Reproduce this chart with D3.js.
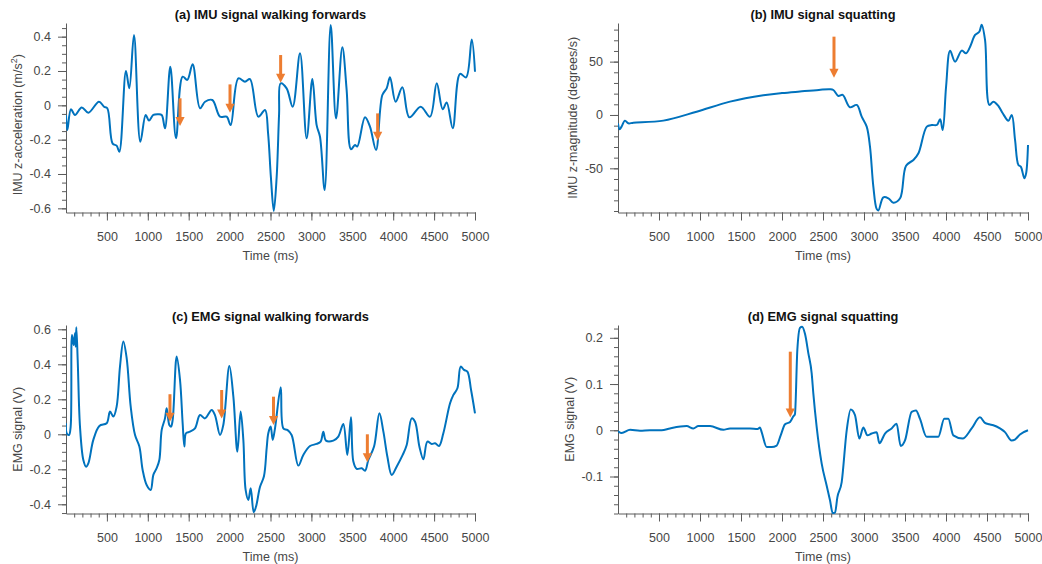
<!DOCTYPE html>
<html>
<head>
<meta charset="utf-8">
<script src="https://cdn.jsdelivr.net/npm/d3@7"></script>
<style>
  html, body { margin: 0; padding: 0; background: #fff; }
  svg { display: block; }
</style>
</head>
<body>
<svg id="chart" width="1042" height="564"></svg>
<script>
// ---- shared time axis (ms) ----
const timeTicks = [500, 1000, 1500, 2000, 2500, 3000, 3500, 4000, 4500, 5000];

// ---- (a) IMU z-acceleration, walking forwards ----
const imuWalkTime = [0, 16, 61, 110, 192, 273, 403, 465, 505, 570, 619, 652, 733, 774, 831, 909, 974, 1015, 1068, 1129,
  1170, 1210, 1275, 1345, 1426, 1483, 1548, 1638, 1700, 1789, 1883, 1964, 2013, 2107, 2188, 2249, 2351, 2433, 2470, 2505,
  2540, 2575, 2605, 2624, 2697, 2771, 2861, 2942, 3012, 3064, 3105, 3162, 3236, 3301, 3378, 3431, 3484, 3533, 3561, 3655,
  3716, 3790, 3867, 3920, 3961, 4030, 4112, 4198, 4336, 4450, 4532, 4605, 4654, 4728, 4817, 4891, 4960, 5000];
const imuWalkAccel = [-0.056, -0.144, -0.023, -0.056, -0.012, -0.043, 0.021, -0.008, -0.017, -0.223, -0.235, -0.270, 0.200, 0.099, 0.410, -0.212, -0.056, -0.089, -0.056, -0.052,
  -0.056, -0.134, 0.225, -0.192, 0.167, 0.148, 0.239, -0.017, 0.021, 0.031, -0.066, -0.066, -0.115, 0.157, 0.138, 0.153, -0.066, -0.027, -0.160, -0.420,
  -0.615, -0.420, -0.050, 0.128, 0.099, -0.008, 0.303, -0.192, 0.153, -0.115, -0.183, -0.493, 0.468, -0.076, 0.338, 0.089, -0.256, -0.231, -0.240, -0.070,
  -0.124, -0.260, 0.060, 0.099, 0.163, 0.021, 0.105, -0.070, -0.008, -0.066, 0.128, -0.023, 0.016, -0.134, 0.183, 0.163, 0.384, 0.196];
const imuWalkYTicks = [-0.6, -0.4, -0.2, 0, 0.2, 0.4];
// [time, tail value, tip value]
const imuWalkArrows = [[1394, 0.041, -0.120], [2005, 0.122, -0.043], [2624, 0.293, 0.132], [3810, -0.047, -0.206]];

// ---- (b) IMU z-magnitude, squatting ----
const imuSquatTime = [0, 20, 43, 85, 126, 187, 553, 959, 1366, 1772, 2000, 2219, 2450, 2585, 2626, 2687, 2740, 2829, 2911, 2972,
  3033, 3073, 3114, 3154, 3175, 3236, 3297, 3358, 3440, 3513, 3603, 3664, 3766, 3827, 3888, 3928, 3960, 4001, 4050, 4111,
  4192, 4244, 4294, 4355, 4406, 4435, 4476, 4529, 4578, 4639, 4692, 4761, 4802, 4842, 4883, 4912, 4956, 4977, 5000];
const imuSquatMag = [-7.8, -13.4, -10.9, -5.3, -7.8, -7.2, -5.3, 3.1, 12.5, 18.5, 20.5, 22.0, 23.5, 24.1, 23.4, 17.8, 18.8, 7.2, 9.4, -1.6,
  -10.9, -29.7, -67.2, -88.0, -89.5, -77.2, -78.1, -82.2, -78.1, -47.5, -42.2, -35.9, -10.9, -9.4, -9.4, -4.1, -14.0, 26.6, 60.3, 50.0,
  60.3, 57.8, 64.0, 75.0, 78.0, 84.5, 70.3, 9.4, 12.5, 8.4, 1.6, -5.3, 0.0, -23.4, -46.9, -48.4, -59.4, -54.7, -28.1];
const imuSquatYTicks = [-50, 0, 50];
const imuSquatArrows = [[2634, 73.4, 35.0]];

// ---- (c) EMG, walking forwards ----
const emgWalkTime = [0, 8, 37, 57, 73, 94, 110, 118, 126, 143, 171, 212, 245, 273, 334, 408, 497, 538, 579, 619,
  660, 701, 742, 791, 844, 897, 937, 986, 1035, 1068, 1108, 1141, 1170, 1210, 1231, 1263, 1284, 1304, 1353, 1394,
  1426, 1447, 1467, 1516, 1577, 1638, 1699, 1781, 1821, 1883, 1923, 1997, 2046, 2095, 2135, 2168, 2196, 2229, 2258, 2295,
  2323, 2372, 2420, 2453, 2473, 2502, 2527, 2555, 2625, 2657, 2706, 2758, 2840, 2901, 2983, 3064, 3113, 3146, 3178, 3268,
  3329, 3390, 3439, 3484, 3513, 3554, 3615, 3656, 3696, 3766, 3831, 3880, 3929, 3982, 4042, 4116, 4165, 4226, 4267, 4320,
  4369, 4418, 4471, 4512, 4560, 4613, 4695, 4736, 4785, 4825, 4866, 4907, 4952, 5000];
const emgWalkSignal = [0.063, 0.006, -0.004, 0.044, 0.568, 0.510, 0.577, 0.501, 0.612, 0.425, 0.044, -0.147, -0.185, -0.166, -0.032, 0.048, 0.063, 0.130, 0.101, 0.158,
  0.387, 0.530, 0.434, 0.158, -0.004, -0.070, -0.204, -0.290, -0.318, -0.232, -0.194, -0.147, 0.025, 0.091, 0.149, 0.053, 0.044, 0.082, 0.444, 0.310,
  0.063, -0.070, 0.006, 0.015, 0.034, 0.110, 0.091, 0.139, 0.110, -0.004, 0.053, 0.390, 0.215, -0.099, 0.130, -0.032, -0.318, -0.375, -0.309, -0.445,
  -0.413, -0.300, -0.240, -0.080, 0.006, 0.044, -0.032, 0.034, 0.269, 0.034, 0.025, -0.004, -0.179, -0.118, -0.067, -0.055, -0.042, 0.015, -0.036, -0.036,
  -0.013, 0.059, -0.118, 0.097, -0.156, -0.198, -0.194, -0.208, -0.147, -0.070, 0.120, 0.015, -0.128, -0.232, -0.185, -0.118, -0.061, 0.091, 0.072, -0.070,
  -0.143, -0.042, -0.055, -0.051, -0.067, 0.006, 0.177, 0.225, 0.263, 0.387, 0.368, 0.358, 0.253, 0.120];
const emgWalkYTicks = [-0.4, -0.2, 0, 0.2, 0.4, 0.6];
const emgWalkArrows = [[1271, 0.229, 0.072], [1903, 0.253, 0.091], [2537, 0.215, 0.053], [3684, 0.000, -0.160]];

// ---- (d) EMG, squatting ----
const emgSquatTime = [0, 45, 147, 268, 390, 532, 634, 837, 919, 980, 1122, 1285, 1366, 1610, 1703, 1732, 1752, 1813, 1874, 1935,
  1984, 2037, 2098, 2138, 2158, 2187, 2220, 2245, 2281, 2321, 2362, 2382, 2423, 2484, 2545, 2586, 2618, 2647, 2675, 2728,
  2789, 2838, 2890, 2943, 2992, 3041, 3094, 3155, 3187, 3256, 3337, 3398, 3447, 3500, 3581, 3634, 3682, 3764, 3845, 3906,
  3979, 4028, 4089, 4203, 4313, 4414, 4475, 4528, 4577, 4658, 4719, 4800, 4841, 4902, 5000];
const emgSquatSignal = [-0.002, -0.006, 0.001, -0.001, 0.000, 0.000, 0.004, 0.009, 0.004, 0.009, 0.009, 0.001, 0.004, 0.004, 0.003, 0.006, -0.004, -0.036, -0.036, -0.033,
  -0.011, 0.013, 0.018, 0.030, 0.035, 0.174, 0.222, 0.224, 0.208, 0.167, 0.123, 0.080, 0.007, -0.072, -0.120, -0.152, -0.179, -0.178, -0.145, -0.112,
  0.000, 0.045, 0.033, -0.018, 0.006, -0.011, -0.007, -0.004, -0.028, -0.007, 0.004, 0.014, -0.034, -0.022, 0.040, 0.043, 0.025, -0.014, -0.014, -0.014,
  0.025, 0.025, -0.011, -0.018, 0.004, 0.028, 0.016, 0.013, 0.011, 0.004, -0.004, -0.022, -0.020, -0.009, 0.000];
const emgSquatYTicks = [-0.1, 0, 0.1, 0.2];
const emgSquatArrows = [[2101, 0.170, 0.0275]];

// ---- drawing ----
const FONT = '"Liberation Sans", Arial, Helvetica, sans-serif';
const LINE_COLOR = "#0072BD";
const ARROW_COLOR = "#ED7D31";
const AXIS_COLOR = "#5c5c5c";
const TEXT_COLOR = "#474747";
const smooth = d3.curveCatmullRom.alpha(0.5);

const panels = [
  { title: "(a) IMU signal walking forwards", time: imuWalkTime, value: imuWalkAccel,
    yTicks: imuWalkYTicks, yMinor: 0.05, yDomain: [-0.6243, 0.4796], arrows: imuWalkArrows, curve: smooth,
    box: { x0: 66, x1: 475, y0: 23, y1: 212.5 }, yLabel: ["IMU z-acceleration (m/s", "2", ")"], yLabelX: 22, yLabelShift: 7 },
  { title: "(b) IMU signal squatting", time: imuSquatTime, value: imuSquatMag,
    yTicks: imuSquatYTicks, yMinor: 10, yDomain: [-91.4, 86.2], arrows: imuSquatArrows, curve: smooth,
    box: { x0: 618, x1: 1028, y0: 23, y1: 212.5 }, yLabel: ["IMU z-magnitude (degrees/s)"], yLabelX: 577, yLabelShift: 0 },
  { title: "(c) EMG signal walking forwards", time: emgWalkTime, value: emgWalkSignal,
    yTicks: emgWalkYTicks, yMinor: 0.05, yDomain: [-0.4526, 0.6246], arrows: emgWalkArrows, curve: smooth,
    box: { x0: 66, x1: 475, y0: 325, y1: 513.5 }, yLabel: ["EMG signal (V)"], yLabelX: 22, yLabelShift: 10 },
  { title: "(d) EMG signal squatting", time: emgSquatTime, value: emgSquatSignal,
    yTicks: emgSquatYTicks, yMinor: 0.02, yDomain: [-0.180, 0.2277], arrows: emgSquatArrows, curve: d3.curveMonotoneX,
    box: { x0: 618, x1: 1028, y0: 325, y1: 513.5 }, yLabel: ["EMG signal (V)"], yLabelX: 574, yLabelShift: 0 }
];

const svg = d3.select("#chart").style("font-family", FONT);
const fmt = d => String(+d.toFixed(3));
const xMinorTicks = d3.range(1, 51).map(i => i * 100);

function styleAxis(sel) {
  sel.select(".domain").attr("stroke", AXIS_COLOR).attr("stroke-width", 1);
  sel.selectAll(".tick line").attr("stroke", AXIS_COLOR).attr("stroke-width", 1);
  sel.selectAll(".tick text").attr("fill", TEXT_COLOR).style("font-size", "12.5px").style("font-family", FONT);
}

panels.forEach((p, idx) => {
  const b = p.box;
  const x = d3.scaleLinear().domain([0, 5000]).range([b.x0, b.x1]);
  const y = d3.scaleLinear().domain(p.yDomain).range([b.y1, b.y0]);
  const g = svg.append("g");

  // plot-area clip so the smoothed trace stays inside the axes
  const clipId = `plot-clip-${idx}`;
  g.append("clipPath").attr("id", clipId)
    .append("rect").attr("x", b.x0).attr("y", b.y0 - 1.5)
    .attr("width", b.x1 - b.x0 + 2).attr("height", b.y1 - b.y0 + 3);

  // minor ticks
  const yMinorTicks = d3.range(Math.ceil(p.yDomain[0] / p.yMinor), Math.floor(p.yDomain[1] / p.yMinor) + 1)
    .map(k => +(k * p.yMinor).toFixed(4));
  g.append("g").attr("transform", `translate(0,${b.y1})`)
    .call(d3.axisBottom(x).tickValues(xMinorTicks).tickSize(4).tickSizeOuter(0).tickFormat(""))
    .call(styleAxis).call(s => s.select(".domain").remove());
  g.append("g").attr("transform", `translate(${b.x0},0)`)
    .call(d3.axisLeft(y).tickValues(yMinorTicks).tickSize(4).tickSizeOuter(0).tickFormat(""))
    .call(styleAxis).call(s => s.select(".domain").remove());

  // major ticks + axis lines
  g.append("g").attr("transform", `translate(0,${b.y1})`)
    .call(d3.axisBottom(x).tickValues(timeTicks).tickSize(8).tickSizeOuter(0).tickPadding(12).tickFormat(d => String(d)))
    .call(styleAxis);
  g.append("g").attr("transform", `translate(${b.x0},0)`)
    .call(d3.axisLeft(y).tickValues(p.yTicks).tickSize(8).tickSizeOuter(0).tickPadding(7).tickFormat(fmt))
    .call(styleAxis);

  // signal trace
  const line = d3.line()
    .x((d, i) => x(p.time[i]))
    .y(d => y(d))
    .curve(p.curve);
  g.append("path").datum(p.value)
    .attr("d", line)
    .attr("clip-path", `url(#${clipId})`)
    .attr("fill", "none")
    .attr("stroke", LINE_COLOR)
    .attr("stroke-width", 2)
    .attr("stroke-linejoin", "round");

  // event arrows
  const head = 9, halfW = 4.6;
  p.arrows.forEach(([t, tail, tip]) => {
    const ax = x(t), yTail = y(tail), yTip = y(tip);
    g.append("line")
      .attr("x1", ax).attr("x2", ax)
      .attr("y1", yTail).attr("y2", yTip - head + 1)
      .attr("stroke", ARROW_COLOR).attr("stroke-width", 3);
    g.append("path")
      .attr("d", `M${ax - halfW},${yTip - head}L${ax + halfW},${yTip - head}L${ax},${yTip}Z`)
      .attr("fill", ARROW_COLOR);
  });

  // title
  g.append("text")
    .attr("x", (b.x0 + b.x1) / 2).attr("y", b.y0 - 4)
    .attr("text-anchor", "middle")
    .style("font-size", "12.8px").style("font-weight", "bold")
    .attr("fill", "#111")
    .text(p.title);

  // x label
  g.append("text")
    .attr("x", (b.x0 + b.x1) / 2).attr("y", b.y1 + 47)
    .attr("text-anchor", "middle")
    .style("font-size", "12.5px")
    .attr("fill", TEXT_COLOR)
    .text("Time (ms)");

  // y label
  const yl = g.append("text")
    .attr("transform", `translate(${p.yLabelX},${(b.y0 + b.y1) / 2 + p.yLabelShift}) rotate(-90)`)
    .attr("text-anchor", "middle")
    .style("font-size", "12.5px")
    .attr("fill", TEXT_COLOR);
  yl.append("tspan").text(p.yLabel[0]);
  if (p.yLabel.length > 1) {
    yl.append("tspan").attr("dy", -5).style("font-size", "9px").text(p.yLabel[1]);
    yl.append("tspan").attr("dy", 5).text(p.yLabel[2]);
  }
});
</script>
</body>
</html>
